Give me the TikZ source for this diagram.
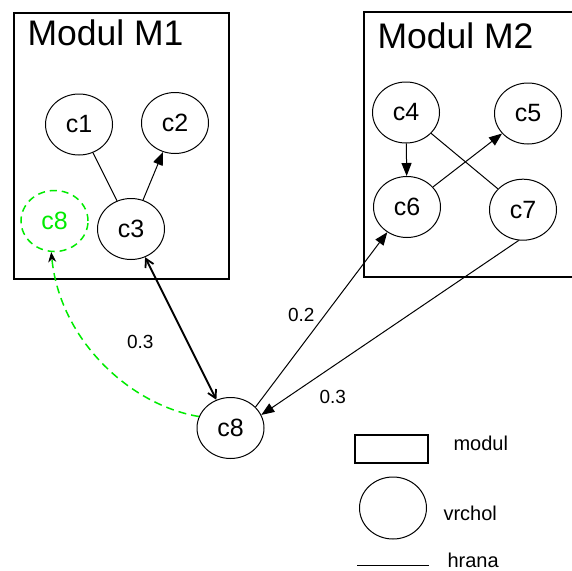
\documentclass[tikz,border=0pt]{standalone}
\usepackage{fontspec}
\setmainfont{Liberation Sans}
\usetikzlibrary{shapes.geometric,arrows.meta}
\definecolor{lgreen}{RGB}{0,235,0}
\begin{document}
\begin{tikzpicture}[x=1pt,y=-1pt,line width=1pt,
  vert/.style={draw,ellipse,inner sep=0pt,minimum width=67pt,minimum height=61pt,font=\fontsize{25}{30}\selectfont},
  modbox/.style={draw,line width=1.2pt},
  modtitle/.style={anchor=base west,inner sep=0pt,font=\fontsize{35.5}{40}\selectfont},
  elabel/.style={anchor=base west,inner sep=0pt,font=\fontsize{19}{22}\selectfont},
  legtext/.style={anchor=base west,inner sep=0pt,font=\fontsize{20}{24}\selectfont},
  fa/.style={-{Triangle[length=13pt,width=10pt]}},
  barb/.style={{Straight Barb[length=8pt,width=9pt]}-{Straight Barb[length=8pt,width=9pt]}},
  gdash/.style={draw=lgreen,dash pattern=on 8pt off 5pt,line width=1.5pt}
]
\useasboundingbox (0,0) rectangle (572,570);
\begin{scope}
\clip (0,0) rectangle (572,570);
% modules
\draw[modbox] (14,13) rectangle (229,279);
\draw[modbox] (364,12) rectangle (600,277);
\end{scope}
\node[modtitle] (t1) at (27,45) {Modul M1};
\node[modtitle] (t2) at (377,48) {Modul M2};

% vertices
\node[vert] (c1) at (79,124.5) {c1};
\node[vert] (c2) at (175,123) {c2};
\node[vert] (c3) at (131,229) {c3};
\node[vert,draw=lgreen,text=lgreen,dash pattern=on 7pt off 5pt,line width=1.5pt] (g8) at (54.5,221) {c8};
\node[vert] (c4) at (406,112.5) {c4};
\node[vert] (c5) at (528,113.5) {c5};
\node[vert] (c6) at (407,207) {c6};
\node[vert] (c7) at (523,209.7) {c7};
\node[vert] (c8) at (230.5,428) {c8};

% edges
\draw (c1) -- (c3);
\draw[fa] (c3) -- (c2);
\draw[fa] (c4) -- (c6);
\draw[fa] (c6) -- (c5);
\draw (c4) -- (c7);
\draw[fa] (c8.40) -- (c6.-128);
\draw[fa] (c7.-98) -- (c8.23);
\draw[barb,line width=1.8pt] (c3) -- (c8);
\draw[gdash,-{Stealth[length=10pt,width=8pt,inset=3pt,black,line width=0.8pt]}] (c8.160) .. controls (130,405) and (60,340) .. (g8.-96);

% edge labels
\node[elabel] (w1) at (126.5,348) {0.3};
\node[elabel] (w2) at (287.5,321.5) {0.2};
\node[elabel] (w3) at (319,403) {0.3};

% legend
\node[draw,line width=1.2pt,minimum width=73pt,minimum height=28pt,inner sep=0pt] (legm) at (391.5,449) {};
\node[legtext] (legmt) at (453,450.5) {modul};
\node[draw,ellipse,inner sep=0pt,minimum width=67pt,minimum height=62pt] (legv) at (393,508) {};
\node[legtext] (legvt) at (443,520.5) {vrchol};
\coordinate (h1) at (357,565.7);
\coordinate (h2) at (428.5,565.7);
\draw (h1) -- (h2);
\node[legtext] (leght) at (447,567) {hrana};
\end{tikzpicture}
\end{document}
